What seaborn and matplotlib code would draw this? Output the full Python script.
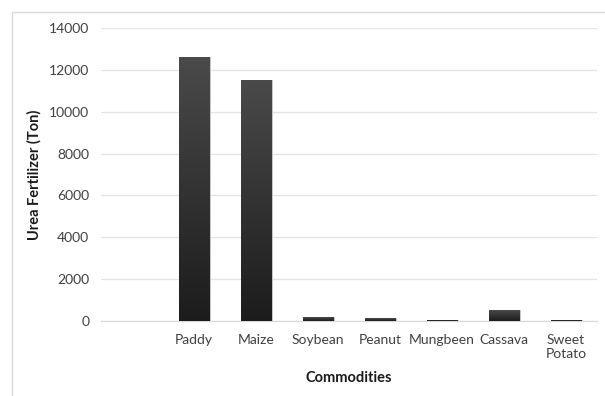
import matplotlib
matplotlib.use("Agg")
import matplotlib.pyplot as plt
import seaborn as sns
import numpy as np
import pandas as pd
from matplotlib.patches import Rectangle
from matplotlib.colors import LinearSegmentedColormap

categories = [" ", "Paddy", "Maize", "Soybean", "Peanut", "Mungbeen", "Cassava", "Sweet\nPotato"]
values = [0, 12600, 11500, 170, 130, 50, 520, 50]
yticks = [0, 2000, 4000, 6000, 8000, 10000, 12000, 14000]

sns.set_style("white")
plt.rcParams['font.family'] = ['Lato', 'DejaVu Sans']

df = pd.DataFrame({"Commodity": categories, "Urea": values})

fig = plt.figure(figsize=(6.05, 3.96), dpi=100)
ax = fig.add_axes([101/605, 75/396, 496/605, 293/396])

sns.barplot(data=df, x="Commodity", y="Urea", order=categories, color="#222222",
            width=0.5, ax=ax, edgecolor="none", zorder=3)

# gradient fill for each bar (dark grey top -> near black bottom)
grad = np.linspace(0, 1, 256).reshape(-1, 1)
cmap = LinearSegmentedColormap.from_list("g", ["#1c1c1c", "#4a4a4a"])
for p in list(ax.patches):
    x0, y0 = p.get_x(), p.get_y()
    w, h = p.get_width(), p.get_height()
    if h <= 0:
        continue
    im = ax.imshow(grad, extent=[x0, x0 + w, y0, y0 + h], origin="lower",
                   aspect="auto", cmap=cmap, zorder=4)
    im.set_clip_path(p)
    p.set_edgecolor("#d0d0d0")
    p.set_linewidth(0.6)

ax.set_xlim(-0.5, len(categories) - 0.5)
ax.set_ylim(0, 14000)
ax.set_yticks(yticks)
ax.set_yticklabels([str(v) for v in yticks])
ax.yaxis.grid(True, color="#e3e3e3", linewidth=0.9, zorder=0)
ax.set_axisbelow(True)
for s in ["top", "right", "left"]:
    ax.spines[s].set_visible(False)
ax.spines["bottom"].set_color("#d9d9d9")
ax.spines["bottom"].set_linewidth(0.9)
ax.tick_params(axis="both", length=0, labelsize=10, colors="#404040")
ax.tick_params(axis="x", pad=9.5)
ax.tick_params(axis="y", pad=8.5)

ax.set_xlabel("Commodities", fontsize=10.5, fontweight="bold", color="#1a1a1a", labelpad=8)
ax.set_ylabel("Urea Fertilizer (Ton)", fontsize=10.5, fontweight="bold", color="#1a1a1a", labelpad=5)

# outer chart border
border = Rectangle((12/605, -0.1), 1.2, (396 - 12)/396 + 0.1, transform=fig.transFigure,
                   fill=False, edgecolor="#d9d9d9", linewidth=1.0)
fig.patches.append(border)

fig.savefig("out.png", dpi=100)
